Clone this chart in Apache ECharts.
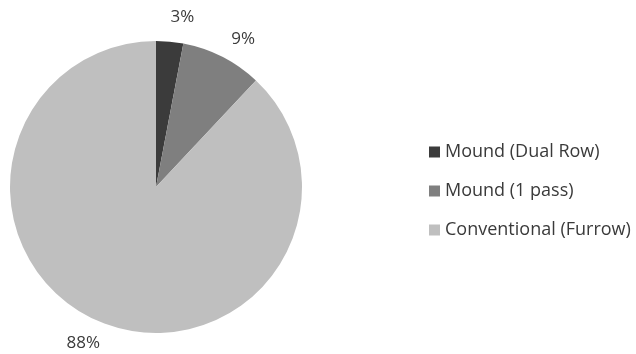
<!DOCTYPE html>
<html>
<head>
<meta charset="utf-8">
<script src="https://cdn.jsdelivr.net/npm/echarts@6/dist/echarts.min.js"></script>
<style>
  html, body { margin: 0; padding: 0; background: #fff; }
  #main { width: 636px; height: 354px; }
</style>
</head>
<body>
<div id="main"></div>
<script>
var categories = ['Mound (Dual Row)', 'Mound (1 pass)', 'Conventional (Furrow)'];
var shares = [3, 9, 88];
var colors = ['#3b3b3b', '#7f7f7f', '#bfbfbf'];

var CX = 156, CY = 187, R = 146;
var total = shares.reduce(function (a, b) { return a + b; }, 0);

var myChart = echarts.init(document.getElementById('main'));

// labels sit just outside the pie, a bit past each slice's middle (like Excel's best fit)
function placeLabel(params) {
    var before = 0;
    for (var i = 0; i < params.dataIndex; i++) before += shares[i];
    var mid = (before + shares[params.dataIndex] / 2) / total * 2 * Math.PI + 0.06;
    var r = R + 26;
    return {
        x: CX + r * Math.sin(mid),
        y: CY - r * Math.cos(mid),
        align: 'center',
        verticalAlign: 'middle'
    };
}

myChart.setOption({
    animation: false,
    textStyle: { fontFamily: 'Open Sans' },
    color: colors,
    legend: {
        orient: 'vertical',
        left: 424,
        top: 138,
        itemWidth: 11,
        itemHeight: 11,
        itemGap: 21,
        icon: 'rect',
        textStyle: { fontSize: 18, color: '#3a3a3a', fontFamily: 'Open Sans' },
        data: categories
    },
    series: [{
        name: 'Share',
        type: 'pie',
        center: [CX, CY],
        radius: R,
        startAngle: 90,
        clockwise: true,
        label: {
            show: true,
            position: 'outside',
            formatter: '{c}%',
            fontSize: 17,
            color: '#3a3a3a',
            fontFamily: 'Open Sans'
        },
        labelLine: { show: false },
        labelLayout: placeLabel,
        itemStyle: { borderWidth: 0 },
        emphasis: { disabled: true },
        data: categories.map(function (c, i) {
            return { name: c, value: shares[i] };
        })
    }]
});
</script>
</body>
</html>
